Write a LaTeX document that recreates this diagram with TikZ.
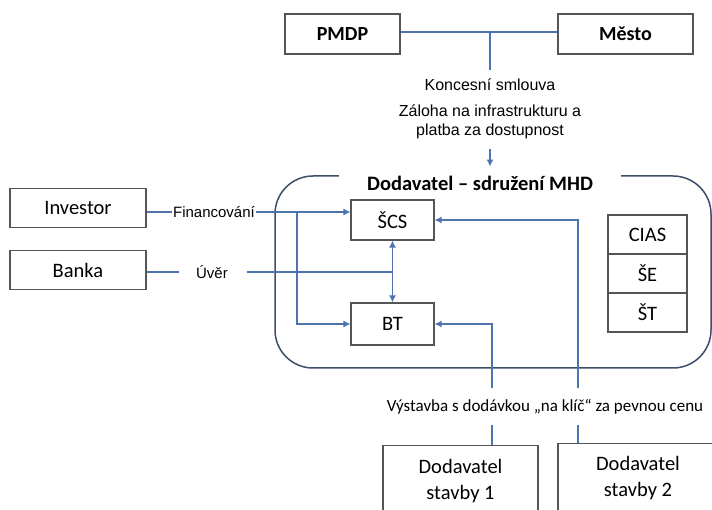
\documentclass[tikz,border=0pt]{standalone}
\usepackage{fontspec}
\setmainfont{Carlito}
\newfontfamily\lblfont{Liberation Sans}
\usepackage{xcolor}
\usetikzlibrary{arrows.meta}

\definecolor{connblue}{RGB}{78,116,176}
\definecolor{framegray}{RGB}{60,78,106}
\definecolor{boxgray}{RGB}{85,85,85}

\begin{document}
\begin{tikzpicture}[x=1pt, y=-1pt,
    box/.style={draw=boxgray, line width=1.1pt, inner sep=0pt, align=center,
        font=\fontsize{20.5}{26}\selectfont},
    lbl/.style={inner sep=1pt, align=center, font=\lblfont\fontsize{16}{19}\selectfont},
    conn/.style={draw=connblue, line width=1.2pt},
    tip/.style={-{Latex[length=7pt,width=7pt]}}]
    \useasboundingbox (0,0) rectangle (712,510);
    \clip (0,0) rectangle (712,510);

    % big frame of the consortium
    \draw[framegray, line width=1.5pt, rounded corners=38pt] (275,176) rectangle (711,368);
    \node[fill=white, inner xsep=28pt, inner ysep=2pt, font=\bfseries\fontsize{20.5}{24}\selectfont]
        (title) at (480,183) {Dodavatel – sdružení MHD};

    \node[box, minimum width=115pt, minimum height=40pt, font=\bfseries\fontsize{20}{24}\selectfont]
        (PMDP) at (342.5,34) {PMDP};
    \node[box, minimum width=135pt, minimum height=40pt, font=\bfseries\fontsize{20}{24}\selectfont]
        (Mesto) at (625.5,34) {Město};

    \node[box, minimum width=136pt, minimum height=39pt] (Investor) at (78,208) {Investor};
    \node[box, minimum width=136pt, minimum height=39pt] (Banka) at (78,270) {Banka};

    \node[box, minimum width=83pt, minimum height=40pt] (SCS) at (392.5,220) {ŠCS};
    \node[box, minimum width=83pt, minimum height=42pt] (BT) at (392.5,324) {BT};

    \node[box, minimum width=79pt, minimum height=39pt] (CIAS) at (647.5,234.5) {CIAS};
    \node[box, minimum width=79pt, minimum height=39pt] (SE) at (647.5,273.5) {ŠE};
    \node[box, minimum width=79pt, minimum height=39pt] (ST) at (647.5,312.5) {ŠT};

    \node[box, minimum width=155pt, minimum height=70pt, anchor=north] (St1) at (460.5,445) {Dodavatel\\stavby 1};
    \node[box, minimum width=160pt, minimum height=68pt, anchor=north] (St2) at (638,443) {Dodavatel\\stavby 2};

    % labels on the connectors
    \node[lbl] (kon) at (490,85) {Koncesní smlouva};
    \node[lbl] (zal) at (490,122) {Záloha na infrastrukturu a\\platba za dostupnost};
    \node[lbl, font=\lblfont\fontsize{15}{18}\selectfont] (fin) at (214,212) {Financování};
    \node[lbl, font=\lblfont\fontsize{15}{18}\selectfont] (uver) at (212,272) {Úvěr};
    \node[lbl, font=\fontsize{17}{20}\selectfont] (vys) at (545,407) {Výstavba s dodávkou „na klíč“ za pevnou cenu};

    \coordinate (kmid) at (490,32);
    \coordinate (kend) at (490,70);
    \coordinate (fork) at (297,212);
    \coordinate (v1top) at (492,388);
    \coordinate (v2top) at (578,388);
    \coordinate (v1bot) at (492,425);
    \coordinate (v2bot) at (578,425);

    \draw[conn] (PMDP.east |- kmid) -- (Mesto.west |- kmid);
    \draw[conn] (kmid) -- (kend);
    \draw[conn, tip, shorten <=9pt, shorten >=7pt] (zal.south) -- (zal.south |- title.north);

    \draw[conn] (Investor.east |- fin.west) -- (fin.west);
    \draw[conn, tip] (fin.east) -- (fin.east -| SCS.west);
    \draw[conn, tip] (fork) |- (BT.west);
    \draw[conn] (Banka.east |- uver.west) -- ++(32,0);
    \draw[conn] (uver.east) ++(18,0) -- (uver.east -| SCS.south);
    \draw[conn, {Latex[length=7pt,width=7pt]}-{Latex[length=7pt,width=7pt]}] (SCS.south) -- (BT.north);

    \draw[conn, tip] (v2top) |- (SCS.east);
    \draw[conn, tip] (v1top) |- (BT.east);
    \draw[conn] (v1bot) -- (v1bot |- St1.north);
    \draw[conn] (v2bot) -- (v2bot |- St2.north);
\end{tikzpicture}
\end{document}
